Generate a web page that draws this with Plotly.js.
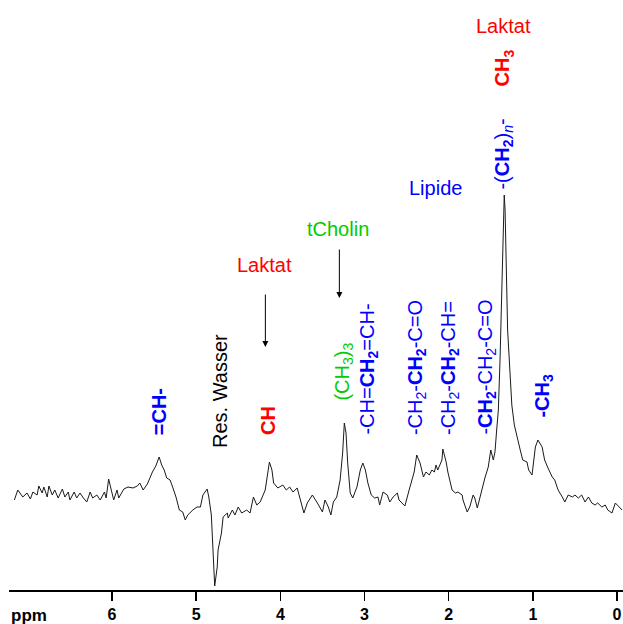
<!DOCTYPE html>
<html>
<head>
<meta charset="utf-8">
<script src="https://cdn.plot.ly/plotly-3.0.1.min.js"></script>
<style>html,body{margin:0;padding:0;background:#fff;}#chart{width:623px;height:624px;}</style>
</head>
<body>
<div id="chart"></div>
<script>
// Chemical shift (ppm) and signal intensity (arbitrary units)
const ppm = [7.16,7.12,7.06,7.01,6.97,6.94,6.89,6.87,6.83,6.81,6.77,6.75,6.71,6.68,6.64,6.59,6.56,6.52,6.50,6.45,6.42,6.38,6.34,6.30,6.26,6.23,6.18,6.14,6.09,6.07,6.04,6.00,5.98,5.94,5.92,5.86,5.81,5.75,5.70,5.67,5.63,5.58,5.52,5.48,5.44,5.41,5.38,5.35,5.31,5.28,5.24,5.20,5.16,5.13,5.10,5.04,4.99,4.95,4.92,4.87,4.85,4.82,4.80,4.78,4.75,4.74,4.70,4.68,4.63,4.62,4.57,4.54,4.50,4.46,4.40,4.36,4.32,4.28,4.24,4.18,4.13,4.10,4.08,4.03,3.97,3.93,3.89,3.85,3.80,3.77,3.72,3.68,3.62,3.56,3.50,3.47,3.43,3.40,3.37,3.33,3.29,3.26,3.24,3.22,3.20,3.17,3.14,3.09,3.05,3.02,2.99,2.96,2.92,2.88,2.84,2.82,2.78,2.73,2.70,2.66,2.61,2.59,2.55,2.52,2.47,2.41,2.38,2.34,2.30,2.27,2.23,2.20,2.17,2.15,2.13,2.08,2.07,2.03,2.01,1.96,1.92,1.89,1.84,1.83,1.78,1.75,1.71,1.69,1.66,1.63,1.59,1.57,1.53,1.50,1.47,1.45,1.43,1.41,1.39,1.37,1.35,1.34,1.33,1.31,1.30,1.27,1.25,1.22,1.19,1.15,1.12,1.07,1.05,1.01,0.97,0.94,0.89,0.86,0.82,0.77,0.74,0.70,0.65,0.62,0.58,0.53,0.50,0.46,0.42,0.38,0.34,0.30,0.26,0.23,0.18,0.14,0.11,0.06,0.02,-0.01,-0.06];
const intensity = [90,100,93,97,91,98,95,104,97,103,93,104,95,100,92,101,93,98,90,98,92,97,92,88,98,92,95,90,98,92,111,97,90,100,92,101,103,102,104,107,100,106,118,124,133,125,120,112,110,103,93,80,78,70,75,80,83,83,95,101,93,75,40,4,23,40,57,73,77,72,80,75,83,77,80,77,93,85,88,100,128,120,107,102,105,100,103,98,102,92,77,87,95,87,78,90,83,75,88,93,110,137,167,157,127,97,92,103,120,127,120,107,95,92,93,85,98,95,88,93,97,90,87,84,100,118,135,127,113,118,115,120,118,125,120,130,141,128,118,100,97,98,95,90,78,83,95,92,82,93,107,112,123,140,130,138,160,180,230,310,370,395,380,310,260,215,185,165,153,140,130,128,120,115,143,150,143,130,122,113,110,100,93,88,95,93,95,92,95,88,93,87,85,87,83,85,80,77,87,84,80];

const tickValues = [6,5,4,3,2,1,0];
const tickLabels = ["6","5","4","3","2","1","0"];

// Peak labels: [text, ppm position, intensity of label foot, colour]
const labelTexts = [
  "<b>=CH-</b>",
  "Res. Wasser",
  "<b>CH</b>",
  "(CH<sub>3</sub>)<sub>3</sub>",
  "-CH=<b>CH<sub>2</sub></b>=CH-",
  "-CH<sub>2</sub>-<b>CH<sub>2</sub></b>-C=O",
  "-CH<sub>2</sub>-<b>CH<sub>2</sub></b>-CH=",
  "-<b>CH<sub>2</sub></b>-CH<sub>2</sub>-C=O",
  "<b>-CH<sub>3</sub></b>",
  "-(<b>CH<sub>2</sub></b>)<sub><i>n</i></sub>-",
  "<b>CH<sub>3</sub></b>"
];
const labelPpm = [5.445,4.717,4.152,3.261,2.958,2.382,1.996,1.556,0.885,1.354,1.343];
const labelFoot = [153,140,153,187,153,153,153,153,170,398,502];
const labelColors = ["#0000ff","#000000","#ff0000","#00cc00","#0000ff","#0000ff","#0000ff","#0000ff","#0000ff","#0000ff","#ff0000"];

// Group headings: [text, ppm, intensity of centre, colour]
const headTexts = ["Laktat","tCholin","Lipide","Laktat"];
const headPpm = [4.194,3.321,2.162,1.343];
const headY = [325,361,402,564];
const headColors = ["#ff0000","#00cc00","#0000ff","#ff0000"];

// Arrows: ppm, tail intensity, tip intensity
const arrowPpm = [4.178,3.299];
const arrowTail = [297,342];
const arrowTip = [243,292];

const FONT = "Arial, 'Liberation Sans', sans-serif";
const annotations = [];
for (let i = 0; i < labelTexts.length; i++) {
  annotations.push({
    x: labelPpm[i], y: labelFoot[i], xref: 'x', yref: 'y',
    text: labelTexts[i], showarrow: false, textangle: -90,
    xanchor: 'center', yanchor: 'bottom',
    font: {family: FONT, size: 20, color: labelColors[i]}
  });
}
for (let i = 0; i < headTexts.length; i++) {
  annotations.push({
    x: headPpm[i], y: headY[i], xref: 'x', yref: 'y',
    text: headTexts[i], showarrow: false,
    xanchor: 'center', yanchor: 'middle',
    font: {family: FONT, size: 20, color: headColors[i]}
  });
}
for (let i = 0; i < arrowPpm.length; i++) {
  annotations.push({
    x: arrowPpm[i], y: arrowTip[i], ax: arrowPpm[i], ay: arrowTail[i],
    xref: 'x', yref: 'y', axref: 'x', ayref: 'y',
    text: '', showarrow: true, arrowhead: 2, arrowsize: 1.2, arrowwidth: 1, arrowcolor: '#000'
  });
}
annotations.push({
  x: 0, y: -0.044, xref: 'paper', yref: 'paper', text: '<b>ppm</b>', showarrow: false,
  xanchor: 'left', yanchor: 'middle', font: {family: FONT, size: 17, color: '#000'}
});

const trace = {
  x: ppm, y: intensity, type: 'scatter', mode: 'lines',
  line: {color: '#1a1a1a', width: 1}, hoverinfo: 'skip'
};

const layout = {
  width: 623, height: 624,
  margin: {l: 9, r: 0, t: 0, b: 34, pad: 0},
  paper_bgcolor: '#fff', plot_bgcolor: '#fff',
  showlegend: false,
  xaxis: {
    range: [7.224, -0.071], showline: true, linecolor: '#000', linewidth: 1.5,
    ticks: 'outside', ticklen: 9, tickwidth: 1.5, tickcolor: '#000',
    tickvals: tickValues, ticktext: tickLabels,
    tickfont: {family: FONT, size: 16, color: '#000', weight: 'bold'},
    showgrid: false, zeroline: false, fixedrange: true
  },
  yaxis: {visible: false, range: [0, 590], fixedrange: true},
  annotations: annotations
};

Plotly.newPlot('chart', [trace], layout, {staticPlot: true, displayModeBar: false});
</script>
</body>
</html>
